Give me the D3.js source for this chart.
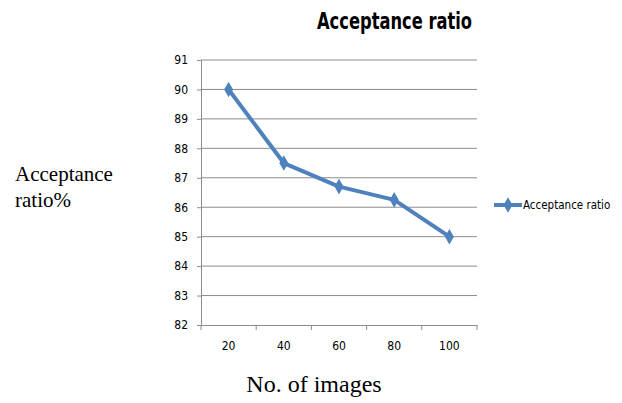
<!DOCTYPE html>
<html><head><meta charset="utf-8">
<script src="https://cdn.jsdelivr.net/npm/d3@7"></script>
<style>body{margin:0;background:#fff}svg{display:block}</style>
</head><body>
<script>
const categories = ["20","40","60","80","100"];
const values = [90, 87.5, 86.7, 86.25, 85];
const yTicks = [82,83,84,85,86,87,88,89,90,91];
const seriesName = "Acceptance ratio";
const titleText = "Acceptance ratio";
const yTitle = ["Acceptance", "ratio%"];
const xTitle = "No. of images";

(function(){
const W = 622, H = 403;
const narrow = "'DejaVu Sans Condensed','Liberation Sans Narrow',sans-serif";
const serif = "'Liberation Serif','Times New Roman',serif";
const svg = d3.select("body").append("svg").attr("width", W).attr("height", H);

const pL = 201, pR = 477, pT = 60, pB = 325;
const x = d3.scaleBand().domain(categories).range([pL, pR]).padding(0);
const y = d3.scaleLinear().domain([82, 91]).range([pB, pT]);
const gridColor = "#8c8c8c";

// gridlines
svg.append("g").selectAll("line").data(yTicks.filter(d => d !== 82)).join("line")
  .attr("x1", pL).attr("x2", pR)
  .attr("y1", d => y(d)).attr("y2", d => y(d))
  .attr("stroke", gridColor).attr("stroke-width", 1);

// y axis
const yAxis = svg.append("g").attr("transform", `translate(${pL},0)`)
  .call(d3.axisLeft(y).tickValues(yTicks).tickSize(4).tickPadding(9).tickFormat(d3.format("d")));
yAxis.select(".domain").attr("stroke", gridColor);
yAxis.selectAll(".tick line").attr("stroke", gridColor);
yAxis.selectAll("text").attr("font-family", narrow).attr("font-size", 12).attr("fill", "#000");

// x axis
const xAxis = svg.append("g").attr("transform", `translate(0,${pB})`)
  .call(d3.axisBottom(x).tickSize(0).tickPadding(16));
xAxis.select(".domain").attr("stroke", gridColor);
xAxis.selectAll(".tick line").remove();
xAxis.selectAll("text").attr("font-family", narrow).attr("font-size", 12).attr("fill", "#000");
// category boundary ticks
const bounds = categories.map(c => x(c)).concat([x(categories[categories.length-1]) + x.bandwidth()]);
svg.append("g").selectAll("line").data(bounds).join("line")
  .attr("x1", d => d).attr("x2", d => d).attr("y1", pB).attr("y2", pB + 5)
  .attr("stroke", gridColor);

// line
const color = "#4F81BD";
const line = d3.line().x((d, i) => x(categories[i]) + x.bandwidth() / 2).y(d => y(d));
svg.append("path").datum(values).attr("d", line)
  .attr("fill", "none").attr("stroke", color).attr("stroke-width", 4).attr("stroke-linejoin", "round");
const diamond = d3.symbol().type(d3.symbolDiamond).size(70);
svg.append("g").selectAll("path").data(values).join("path")
  .attr("d", diamond)
  .attr("transform", (d, i) => `translate(${x(categories[i]) + x.bandwidth() / 2},${y(d)})`)
  .attr("fill", color);

// title
svg.append("text").attr("x", 317).attr("y", 29)
  .attr("font-family", narrow).attr("font-weight", "bold").attr("font-size", 23)
  .attr("textLength", 155).attr("lengthAdjust", "spacingAndGlyphs").text(titleText);

// legend
const ly = 205;
svg.append("line").attr("x1", 494).attr("x2", 522).attr("y1", ly).attr("y2", ly)
  .attr("stroke", color).attr("stroke-width", 4);
svg.append("path").attr("d", diamond).attr("transform", `translate(508,${ly})`).attr("fill", color);
svg.append("text").attr("x", 523).attr("y", ly + 4).attr("font-family", narrow).attr("font-size", 11.5).text(seriesName);

// axis titles
svg.append("text").attr("font-family", serif).attr("font-size", 21)
  .selectAll("tspan").data(yTitle).join("tspan")
  .attr("x", 15).attr("y", (d, i) => 181 + i * 26).text(d => d);
svg.append("text").attr("x", 314).attr("y", 392).attr("text-anchor", "middle")
  .attr("font-family", serif).attr("font-size", 24).text(xTitle);
})();
</script>
</body></html>
